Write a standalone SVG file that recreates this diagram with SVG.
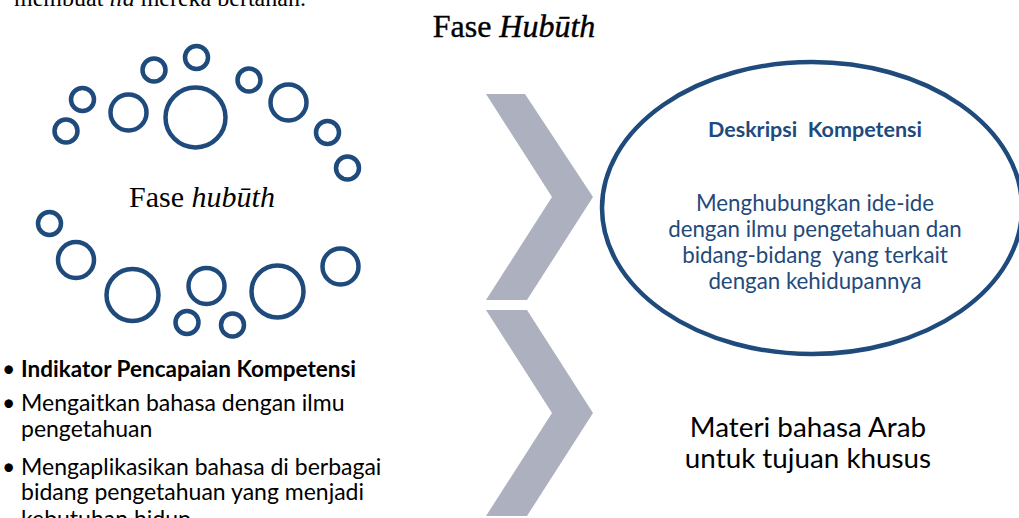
<svg xmlns="http://www.w3.org/2000/svg" width="1019" height="518" viewBox="0 0 1019 518">
<style>
.ring{fill:none;stroke:#1F4A7C;stroke-width:4.5}
.chev{fill:#ADB1BF}
.serif{font-family:"Liberation Serif","Times New Roman",serif;fill:#000}
.sans{font-family:Lato,"Open Sans","Liberation Sans",sans-serif}
.blue{fill:#1F4A7C}
.blk{fill:#000}
</style>
<rect width="1019" height="518" fill="#fff"/>
<g id="top-text">
<text class="serif" x="14" y="6" font-size="24">membuat <tspan font-style="italic">ilā</tspan> mereka bertahan.</text>
</g>
<g id="title">
<text class="serif" x="514" y="37" font-size="32" text-anchor="middle" stroke="#000" stroke-width="0.4">Fase <tspan font-style="italic">Hub&#363;th</tspan></text>
</g>
<g id="rings">
<circle class="ring" cx="66" cy="131" r="11.5"/>
<circle class="ring" cx="82.5" cy="99.5" r="11.5"/>
<circle class="ring" cx="128.5" cy="112.5" r="18"/>
<circle class="ring" cx="154" cy="70" r="11.5"/>
<circle class="ring" cx="196.5" cy="57.5" r="11.5"/>
<circle class="ring" cx="195.5" cy="117.5" r="30"/>
<circle class="ring" cx="249" cy="80" r="11.5"/>
<circle class="ring" cx="288.5" cy="102.5" r="18"/>
<circle class="ring" cx="327.5" cy="132.5" r="11.5"/>
<circle class="ring" cx="347.5" cy="168" r="11.5"/>
<circle class="ring" cx="49.5" cy="223.5" r="11.5"/>
<circle class="ring" cx="76" cy="260" r="18"/>
<circle class="ring" cx="132.5" cy="295" r="26"/>
<circle class="ring" cx="206.5" cy="286" r="18"/>
<circle class="ring" cx="187" cy="322.5" r="11.5"/>
<circle class="ring" cx="232.5" cy="325" r="11.5"/>
<circle class="ring" cx="277.5" cy="291.5" r="26"/>
<circle class="ring" cx="340.5" cy="266.5" r="18"/>
<text class="serif" x="202" y="207" font-size="30" text-anchor="middle">Fase <tspan font-style="italic">hub&#363;th</tspan></text>
</g>
<g id="connectors">
<polygon class="chev" points="486,94 525,94 593,197 527,300 486,300 552,197"/>
<polygon class="chev" points="486,310 527,310 593,413 527,516 486,516 552,413"/>
</g>
<g id="deskripsi">
<ellipse cx="812" cy="208" rx="210" ry="146" fill="#fff" stroke="#1F4A7C" stroke-width="4.5"/>
<text class="sans blue" x="815" y="137" font-size="21.5" font-weight="bold" text-anchor="middle" xml:space="preserve">Deskripsi  Kompetensi</text>
<text class="sans blue" font-size="22.3" text-anchor="middle" xml:space="preserve"><tspan x="815" y="211">Menghubungkan ide-ide</tspan><tspan x="815" y="237">dengan ilmu pengetahuan dan</tspan><tspan x="815" y="263">bidang-bidang  yang terkait</tspan><tspan x="815" y="289">dengan kehidupannya</tspan></text>
</g>
<g id="indikator">
<text class="sans blk" font-size="23"><tspan x="2" y="377">•</tspan><tspan x="21" y="377" font-weight="bold" font-size="22.5">Indikator Pencapaian Kompetensi</tspan><tspan x="2" y="411">•</tspan><tspan x="21" y="411">Mengaitkan bahasa dengan ilmu</tspan><tspan x="21" y="437">pengetahuan</tspan><tspan x="2" y="475">•</tspan><tspan x="21" y="475">Mengaplikasikan bahasa di berbagai</tspan><tspan x="21" y="500">bidang pengetahuan yang menjadi</tspan><tspan x="21" y="527">kebutuhan hidup</tspan></text>
</g>
<g id="materi">
<text class="sans blk" font-size="27.8" text-anchor="middle"><tspan x="808" y="437">Materi bahasa Arab</tspan><tspan x="808" y="468">untuk tujuan khusus</tspan></text>
</g>
</svg>
